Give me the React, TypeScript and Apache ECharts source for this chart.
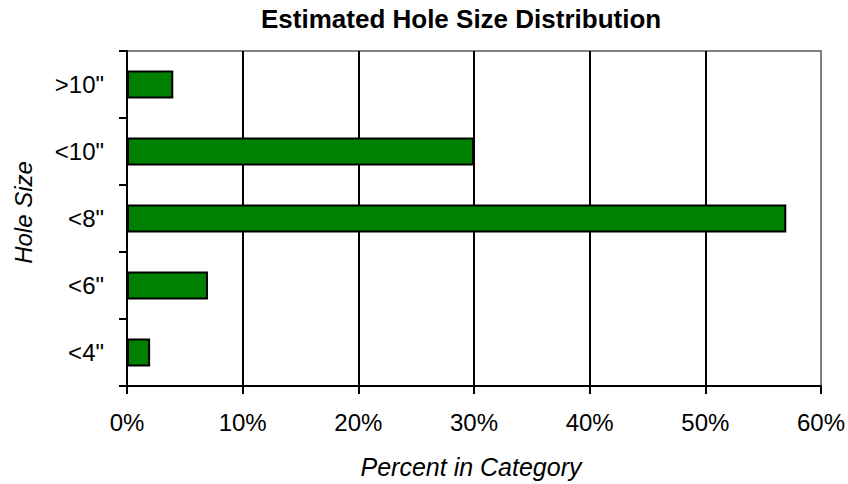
import React, { useEffect, useRef } from "react";
import * as echarts from "echarts";

const categories = ['<4"', '<6"', '<8"', '<10"', '>10"'];
const percentValues = [2, 7, 57, 30, 4];
const chartTitle = "Estimated Hole Size Distribution";
const xAxisTitle = "Percent in Category";
const yAxisTitle = "Hole Size";

export default function App() {
  const ref = useRef<HTMLDivElement>(null);
  useEffect(() => {
    if (!ref.current) return;
    const chart = echarts.init(ref.current, null, { renderer: "svg" });
    const font = "'Liberation Sans', Arial, sans-serif";
    chart.setOption({
      animation: false,
      backgroundColor: "#ffffff",
      title: {
        text: chartTitle,
        left: 261,
        top: 6,
        padding: 0,
        textStyle: { fontFamily: font, fontSize: 26, fontWeight: "bold", color: "#000" },
      },
      grid: {
        left: 127,
        right: 27,
        top: 51,
        bottom: 95,
        show: true,
        borderColor: "#808080",
        borderWidth: 2,
        backgroundColor: "transparent",
      },
      xAxis: {
        type: "value",
        min: 0,
        max: 60,
        interval: 10,
        name: xAxisTitle,
        nameLocation: "middle",
        nameGap: 68,
        nameTextStyle: { fontFamily: font, fontSize: 25, fontStyle: "italic", color: "#000", padding: [0, 6, 0, 0] },
        axisLine: { show: true, lineStyle: { color: "#000", width: 2 } },
        axisTick: { show: true, length: 8, lineStyle: { color: "#000", width: 2 } },
        axisLabel: { formatter: "{value}%", fontFamily: font, fontSize: 24, color: "#000", margin: 24 },
        splitLine: {
          show: true,
          lineStyle: { color: ["#000", "#000", "#000", "#000", "#000", "#000", "#808080"], width: 2 },
        },
      },
      yAxis: {
        type: "category",
        data: categories,
        name: yAxisTitle,
        nameLocation: "middle",
        nameGap: 92,
        nameTextStyle: { fontFamily: font, fontSize: 24, fontStyle: "italic", color: "#000", padding: [0, 0, 0, 12] },
        axisLine: { show: true, lineStyle: { color: "#000", width: 2 } },
        axisTick: { show: true, length: 8, lineStyle: { color: "#000", width: 2 } },
        axisLabel: { fontFamily: font, fontSize: 24, color: "#000", margin: 23 },
        splitLine: { show: false },
      },
      series: [
        {
          type: "bar",
          data: percentValues,
          barWidth: 28,
          itemStyle: { color: "#008000", borderColor: "#000", borderWidth: 2 },
        },
      ],
    });
    return () => chart.dispose();
  }, []);
  return <div ref={ref} style={{ width: 848, height: 484, position: "absolute", left: 0, top: 0 }} />;
}
